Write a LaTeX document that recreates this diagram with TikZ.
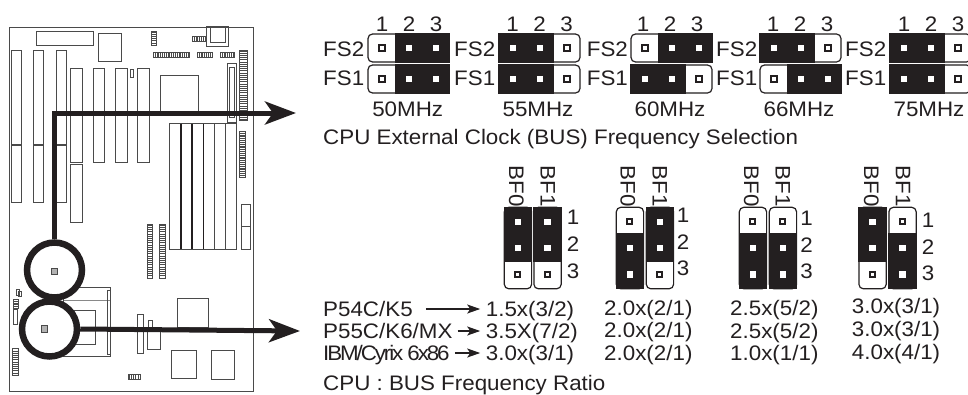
\documentclass[tikz,border=0pt]{standalone}
\usepackage{fontspec}
\setmainfont[FakeStretch=1.065]{Liberation Sans}
\usetikzlibrary{arrows.meta}
\definecolor{ink}{HTML}{231F20}
\definecolor{partgray}{HTML}{4A4A4A}
\tikzset{
 lbl/.style={inner sep=0pt, text=ink, text height=15pt, text depth=0pt, font=\fontsize{21}{24}\selectfont},
 part/.style={draw=partgray, line width=1pt},
 ticks/.style={draw=partgray, dash pattern=on 1.1pt off 1.1pt},
 jumpline/.style={draw=ink, line width=1.2pt, fill=white, rounded corners=4.5pt},
 ring/.style={circle, draw=ink, line width=6.5pt, fill=white, minimum size=55pt, inner sep=0pt},
 bigarrow/.style={draw=ink, line width=5pt, -{Stealth[length=31pt,width=23pt,inset=8pt]}},
 smallarrow/.style={draw=ink, line width=1.2pt, -{Stealth[length=13pt,width=9pt,inset=3pt]}}
}
% one pin of a jumper: covered by the cap, or free
\newcommand{\pinon}[2]{\fill[white] ({#1-3.2},{#2-3.2}) rectangle ({#1+3.2},{#2+3.2});}
\newcommand{\pinoff}[2]{\draw[ink, line width=1.9pt] ({#1-2.7},{#2-2.7}) rectangle ({#1+2.7},{#2+2.7});}
% x, y, free pin
\newcommand{\hjump}[3]{
 \draw[jumpline] (#1,#2) rectangle (#1+81,#2+28);
 \ifnum#3=1 \fill[ink] (#1+27,#2-0.6) rectangle (#1+81.6,#2+28.6);
 \else \fill[ink] (#1-0.6,#2-0.6) rectangle (#1+54.5,#2+28.6); \fi
 \foreach \c in {1,2,3}{
 \ifnum\c=#3 \pinoff{#1+14+(\c-1)*27}{#2+14}
 \else \pinon{#1+14+(\c-1)*27}{#2+14} \fi}
}
\newcommand{\vjump}[3]{
 \draw[jumpline] (#1+0.6,#2) rectangle (#1+27.9,#2+81.5);
 \ifnum#3=1 \fill[ink] (#1,#2+26) rectangle (#1+28.5,#2+82.1);
 \else \fill[ink] (#1,#2-0.6) rectangle (#1+28.5,#2+55); \fi
 \foreach \c in {1,2,3}{
 \ifnum\c=#3 \pinoff{#1+14}{#2+14.4+(\c-1)*26.3}
 \else \pinon{#1+14}{#2+14.4+(\c-1)*26.3} \fi}
}
\begin{document}
\begin{tikzpicture}[x=1pt, y=-1pt, line join=miter]
 \useasboundingbox (0,0) rectangle (968,394);
 % board
 \draw[part] (9.5,27) rectangle (253,391.5);
 \foreach \a/\b/\c/\d in {36.5/31.5/93.5/45.5, 98/33/121/61, 206/26/228.5/46.5, 210/27/225/42.5,
 227/63/236/122, 229.5/67/234.5/117,
 70.5/68.5/82.5/162, 93.5/68.5/104.5/162, 115.5/68.5/127/162, 137.5/68.5/149/162, 130/69/133.5/77.5,
 70.5/164.5/82.5/222, 160.5/75/198.5/113, 169.5/123.5/236.5/249, 241.5/204/250/226.7, 241.5/226.7/250/249,
 11/50.5/21/144, 11/145/21/202, 33.5/50.5/43.5/144, 33.5/145/43.5/202, 56/50.5/66/144, 56/145/66/202,
 63/287.3/110.7/356.3, 63/300/110.7/300, 107.5/290/110/354, 60/310.7/95.7/344,
 137.3/314.3/143.7/353.7, 148/320/152.7/328.7, 147.7/328.3/160.7/349.3,
 177.7/298/208.3/327.7, 171.7/350.3/196/378.3, 211.7/350.3/234.3/379,
 16/289/19.3/295.7, 18.3/291.3/21.7/296, 13.3/309.3/17.3/324}{
 \draw[part] (\a,\b) rectangle (\c,\d);}
 \foreach \x in {181,192,203.3}{
 \draw[ink, line width=1.2pt] (\x,123.5) -- (\x,249);}
 \foreach \x in {214.3,225.7}{
 \draw[part] (\x,123.5) -- (\x,249);}
 % connector strips, across
 \foreach \a/\b/\c/\d in {192/36/206/41.5, 153/52.5/189/57, 197/52.5/212/57, 220/52.5/234/57, 128.7/374.3/140.3/379.3}{
 \draw[part] (\a,\b) rectangle (\c,\d);
 \draw[ticks, line width=\d pt-\b pt] (\a,{(\b+\d)/2}) -- (\c,{(\b+\d)/2});}
 % connector strips, upright
 \foreach \a/\b/\c/\d in {151/31.5/156.5/45, 239.5/50.5/247.5/120.5, 239.5/131/245/177, 147.5/224.7/152.7/278.3,
 159.7/224.7/165/278.3, 12.7/348.3/18/375.7, 13.3/299/18.3/308}{
 \draw[part] (\a,\b) rectangle (\c,\d);
 \draw[ticks, line width=\c pt-\a pt] ({(\a+\c)/2},\b) -- ({(\a+\c)/2},\d);}
 % circles and arrows
 \node[ring] (ringbus) at (54.5,270) {};
 \node[ring] (ringcpu) at (49.5,329) {};
 \coordinate (tipbus) at (296,113);
 \coordinate (tipcpu) at (300,331);
 \draw[bigarrow] (ringbus.north) |- (tipbus);
 \draw[bigarrow] (ringcpu.east) -- (tipcpu);
 \draw[part, fill=gray!60] (51,268) rectangle (57.7,274);
 \draw[part, fill=gray!60] (41.7,325.7) rectangle (47.7,332.3);
 % FS jumpers
 \foreach \x/\ta/\tb in {368/1/1, 499/3/3, 631/1/3, 760/3/1, 890/3/3}{
 \hjump{\x}{34}{\ta}
 \hjump{\x}{65}{\tb}}
 \foreach \xa [count=\j] in {382,512.7,643,773,904}{
 \foreach \n in {1,2,3}{
 \node[lbl] (top\j\n) at ({\xa+(\n-1)*27},24) {\n};}}
 \foreach \x [count=\j] in {323,454,586.7,716,845}{
 \node[lbl, anchor=west] (fstwo\j) at (\x,49) {FS2};
 \node[lbl, anchor=west] (fsone\j) at (\x,78) {FS1};}
 \foreach \x/\f [count=\j] in {407.7/50,538/55,670/60,799/66,929/75}{
 \node[lbl] (mhz\j) at (\x,109) {\f MHz};}
 \node[lbl, anchor=west] (capbus) at (323,137) {CPU External Clock (BUS) Frequency Selection};
 % BF jumpers
 \foreach \xa/\xb/\ta/\tb in {503.7/533.3/3/3, 615.7/645.7/1/3, 738.7/768.7/1/1, 858.3/888.3/3/1}{
 \vjump{\xa}{207.3}{\ta}
 \vjump{\xb}{207.3}{\tb}}
 \foreach \xa/\xb [count=\j] in {516.7/548, 628/660, 751.7/783, 871.7/903.3}{
 \node[lbl, rotate=-90] (bfzero\j) at (\xa,186) {BF0};
 \node[lbl, rotate=-90] (bfone\j) at (\xb,186) {BF1};}
 \foreach \x/\y [count=\j] in {573/217.3, 683/215, 806.7/218, 928/220}{
 \foreach \n in {1,2,3}{
 \node[lbl] (num\j\n) at (\x,{\y+(\n-1)*26.7}) {\n};}}
 % ratios
 \node[lbl, anchor=west] (rowa) at (323,309) {P54C/K5};
 \node[lbl, anchor=west] (rowb) at (323,331) {P55C/K6/MX};
 \node[lbl, anchor=west] (rowc) at (323,353) {\addfontfeature{LetterSpace=-10}IBM/Cyrix 6x86};
 \node[lbl, anchor=west] (rata) at (485.7,309) {1.5x(3/2)};
 \node[lbl, anchor=west] (ratb) at (485.7,331) {3.5X(7/2)};
 \node[lbl, anchor=west] (ratc) at (485.7,353) {3.0x(3/1)};
 \draw[smallarrow, shorten <=13pt, shorten >=5.5pt] (rowa) -- (rata);
 \draw[smallarrow, shorten <=5pt, shorten >=5.5pt] (rowb) -- (ratb);
 \draw[smallarrow, shorten <=5pt, shorten >=5.5pt] (rowc) -- (ratc);
 \foreach \x/\y/\r [count=\j] in {604/308/{2.0x(2/1)}, 604/330/{2.0x(2/1)}, 604/352.7/{2.0x(2/1)},
 730/308/{2.5x(5/2)}, 730/331/{2.5x(5/2)}, 730/353/{1.0x(1/1)},
 851.7/306/{3.0x(3/1)}, 851.7/329/{3.0x(3/1)}, 851.7/351.7/{4.0x(4/1)}}{
 \node[lbl, anchor=west] (rat\j) at (\x,\y) {\r};}
 \node[lbl, anchor=west] (capratio) at (323,382.5) {CPU : BUS Frequency Ratio};
\end{tikzpicture}
\end{document}
